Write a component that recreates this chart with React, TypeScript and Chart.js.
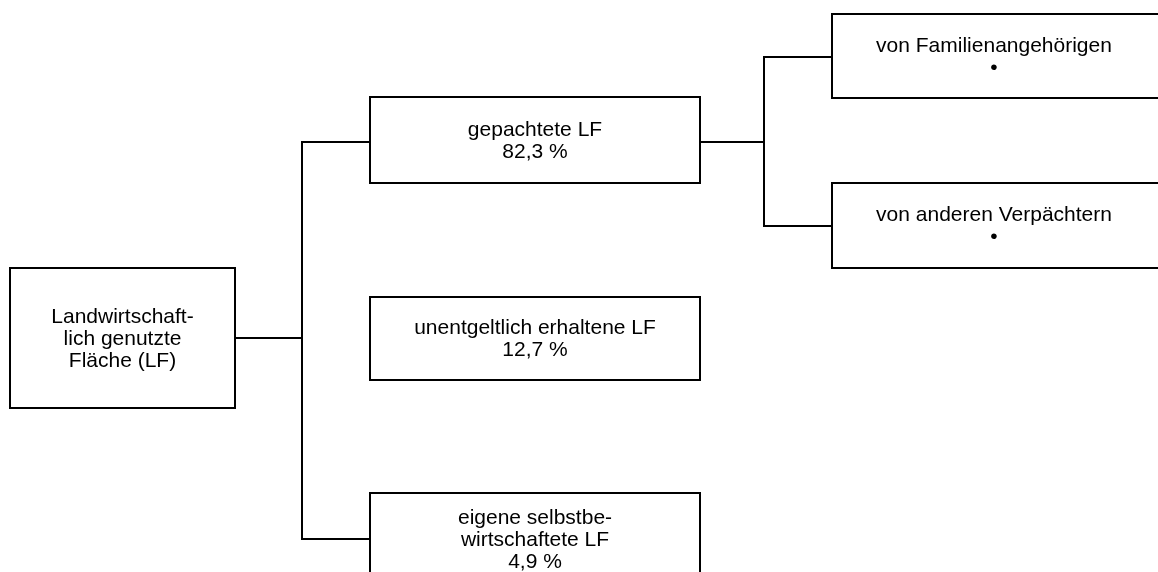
import React, { useEffect, useRef } from "react";
import { Chart, registerables } from "chart.js";

Chart.register(...registerables);

// ---- data ----
const nodeNames: string[] = [
  "Landwirtschaft-\nlich genutzte\nFläche (LF)",
  "gepachtete LF",
  "unentgeltlich erhaltene LF",
  "eigene selbstbe-\nwirtschaftete LF",
  "von Familienangehörigen",
  "von anderen Verpächtern",
];
const nodeShares: (number | null)[] = [null, 82.3, 12.7, 4.9, null, null];
const nodeHasValue: boolean[] = [false, true, true, true, true, true];
const nodeLevels: number[] = [0, 1, 1, 1, 2, 2];
const edgeParents: number[] = [0, 0, 1, 1];
const edgeChildren: number[] = [1, 3, 4, 5];
const missingMark = "•";

// ---- layout (chart units = px) ----
const columnLeft = [10, 370, 832];
const columnRight = [235, 700, 1180];
const busX = [302, 764];
const nodeCenterY = [338, 140, 338.5, 539, 56, 225.5];
const nodeHeight = [140, 86, 83, 92, 84, 85];
const nodeAnchorY = [338, 142, 338, 539, 57, 226];
const FONT = "21px 'Liberation Sans', Arial, sans-serif";
const LINE_H = 22;

function fmt(v: number) {
  return v.toFixed(1).replace(".", ",") + " %";
}

const treePlugin = {
  id: "tree",
  afterDraw(chart: any) {
    const ctx = chart.ctx as CanvasRenderingContext2D;
    const xs = chart.scales.x;
    const ys = chart.scales.y;
    ctx.save();
    ctx.fillStyle = "#fff";
    ctx.fillRect(0, 0, chart.width, chart.height);
    ctx.strokeStyle = "#000";
    ctx.lineWidth = 2;
    ctx.lineCap = "butt";

    // connectors
    const parents = Array.from(new Set(edgeParents));
    parents.forEach((p) => {
      const kids = edgeChildren.filter((_, i) => edgeParents[i] === p);
      const lvl = nodeLevels[p];
      const bx = xs.getPixelForValue(busX[lvl]);
      const px = xs.getPixelForValue(columnRight[lvl]);
      const py = ys.getPixelForValue(nodeAnchorY[p]);
      ctx.beginPath();
      ctx.moveTo(px, py);
      ctx.lineTo(bx, py);
      ctx.stroke();
      const kys = kids.map((k) => ys.getPixelForValue(nodeAnchorY[k]));
      ctx.beginPath();
      ctx.moveTo(bx, Math.min(...kys) - 1);
      ctx.lineTo(bx, Math.max(...kys) + 1);
      ctx.stroke();
      kids.forEach((k, j) => {
        const cx = xs.getPixelForValue(columnLeft[nodeLevels[k]]);
        ctx.beginPath();
        ctx.moveTo(bx, kys[j]);
        ctx.lineTo(cx, kys[j]);
        ctx.stroke();
      });
    });

    // boxes
    ctx.font = FONT;
    ctx.fillStyle = "#000";
    ctx.textAlign = "center";
    ctx.textBaseline = "middle";
    nodeNames.forEach((name, i) => {
      const lvl = nodeLevels[i];
      const x0 = xs.getPixelForValue(columnLeft[lvl]);
      const x1 = xs.getPixelForValue(columnRight[lvl]);
      const yc = ys.getPixelForValue(nodeCenterY[i]);
      const h = nodeHeight[i];
      ctx.strokeRect(x0, yc - h / 2, x1 - x0, h);
      const lines = name.split("\n");
      if (nodeHasValue[i]) {
        const v = nodeShares[i];
        lines.push(v === null ? missingMark : fmt(v));
      }
      const tcx = (x0 + Math.min(x1, chart.width + 160)) / 2;
      const centerX = lvl === 2 ? xs.getPixelForValue(994) : tcx;
      lines.forEach((ln, j) => {
        const ty = yc + (j - (lines.length - 1) / 2) * LINE_H + 1;
        ctx.fillText(ln, centerX, ty);
      });
    });
    ctx.restore();
  },
};

export default function App() {
  const ref = useRef<HTMLCanvasElement | null>(null);
  useEffect(() => {
    document.body.style.margin = "0";
    const canvas = ref.current!;
    const chart = new Chart(canvas, {
      type: "scatter",
      data: {
        datasets: [
          {
            data: nodeNames.map((_, i) => ({
              x: (columnLeft[nodeLevels[i]] + columnRight[nodeLevels[i]]) / 2,
              y: nodeCenterY[i],
            })),
            pointRadius: 0,
          },
        ],
      },
      options: {
        animation: false,
        responsive: false,
        devicePixelRatio: 1,
        layout: { padding: 0 },
        plugins: { legend: { display: false }, tooltip: { enabled: false } },
        scales: {
          x: { type: "linear", min: 0, max: 1158, display: false },
          y: { type: "linear", min: 0, max: 572, reverse: true, display: false },
        },
      },
      plugins: [treePlugin],
    });
    return () => chart.destroy();
  }, []);
  return (
    <div style={{ position: "absolute", left: 0, top: 0 }}>
      <canvas ref={ref} width={1158} height={572} style={{ display: "block" }} />
    </div>
  );
}
